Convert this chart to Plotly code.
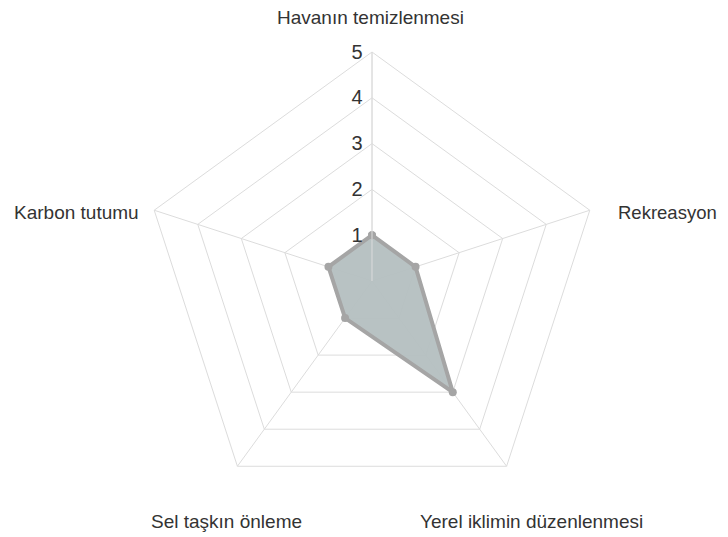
import plotly.graph_objects as go

categories = ["Havanın temizlenmesi", "Rekreasyon", "Yerel iklimin düzenlenmesi",
              "Sel taşkın önleme", "Karbon tutumu"]
values = [1, 1, 3, 1, 1]
radial_ticks = [1, 2, 3, 4, 5]

# the page body has an 8px margin; size the figure so it fills the 728x537 window
OFF = -8
W, H = 728 + OFF, 537 + OFF
CX, CY, R = 372, 281, 229   # target window-pixel centre / radius of the radar

r_closed = values + values[:1]
theta_closed = categories + categories[:1]

fig = go.Figure()
fig.add_trace(go.Scatterpolar(
    r=r_closed, theta=theta_closed, mode="lines+markers",
    fill="toself", fillcolor="rgba(180,191,192,0.95)",
    line=dict(color="#a5a5a5", width=4),
    marker=dict(color="#a5a5a5", size=8),
    showlegend=False, hoverinfo="skip",
))

grid = "#dcdcdc"
cx, cy = CX + OFF, CY + OFF
fig.update_layout(
    width=W, height=H,
    margin=dict(l=0, r=0, t=0, b=0),
    paper_bgcolor="white",
    font=dict(family="Liberation Sans, Arial, sans-serif", color="#333333"),
    polar=dict(
        domain=dict(x=[(cx - R) / W, (cx + R) / W],
                    y=[(H - cy - R) / H, (H - cy + R) / H]),
        bgcolor="white",
        gridshape="linear",
        radialaxis=dict(
            range=[0, 5], tickvals=radial_ticks, ticktext=[str(v) for v in radial_ticks],
            angle=90, tickangle=90, side="counterclockwise",
            showline=True, linecolor=grid, linewidth=1,
            gridcolor=grid, gridwidth=1,
            ticks="outside", ticklen=2, tickcolor="rgba(0,0,0,0)",
            tickfont=dict(size=20, color="#333333"),
        ),
        angularaxis=dict(
            rotation=90, direction="clockwise",
            showline=True, linecolor=grid, linewidth=1,
            gridcolor=grid, gridwidth=1,
            ticks="", showticklabels=False,
        ),
    ),
)

# category labels placed around the radar (Excel-style placement)
label_pos = [  # (x, y, xanchor, font size) in window pixels
    (370, 18, "center", 19),
    (617, 213, "left", 18.5),
    (531, 521, "center", 19),
    (227, 521, "center", 19),
    (140, 212, "right", 19),
]
for name, (px, py, xa, fs) in zip(categories, label_pos):
    fig.add_annotation(
        text=name, x=(px + OFF) / W, y=1 - (py + OFF) / H, xref="paper", yref="paper",
        xanchor=xa, yanchor="middle", showarrow=False, borderpad=0,
        font=dict(size=fs, color="#333333"),
    )

fig.write_html("out.html")
